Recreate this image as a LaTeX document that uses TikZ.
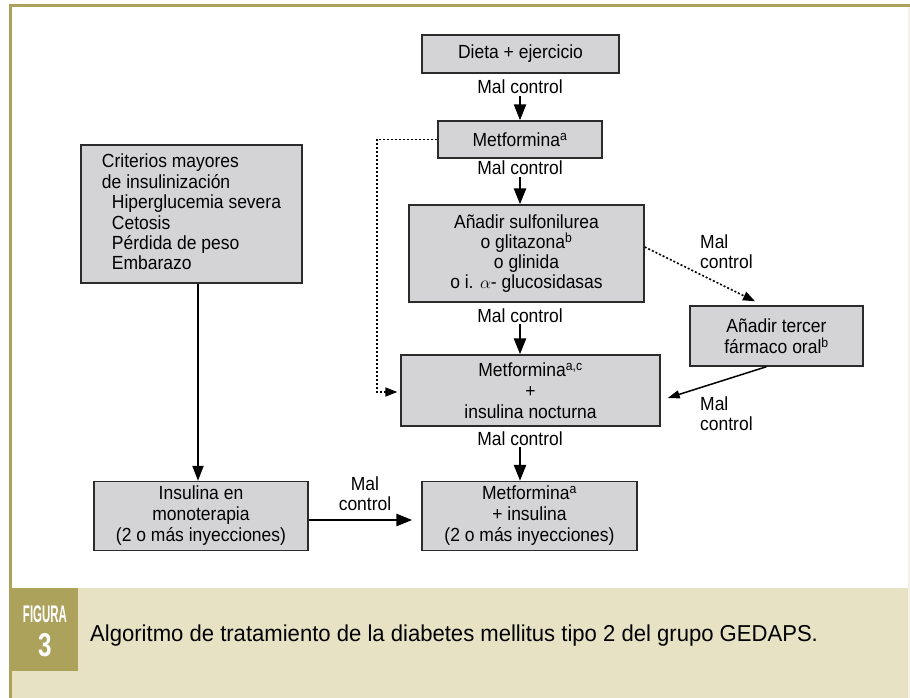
\documentclass[tikz,border=0pt]{standalone}
\usepackage{fontspec}
\setmainfont{Liberation Sans}[FakeStretch=0.92]
\newfontfamily\capfont{Liberation Sans}[FakeStretch=0.96]
\usepackage{graphicx}
\usetikzlibrary{arrows.meta,calc}
\definecolor{figolive}{HTML}{ADA25C}
\definecolor{capbeige}{HTML}{E8E2C5}
\definecolor{boxgray}{HTML}{D4D4D6}
\definecolor{boxline}{HTML}{2B2B2B}
\definecolor{edgecream}{HTML}{F3F1E8}
\tikzset{
  box/.style={draw=boxline, fill=boxgray, line width=1.4pt, inner sep=0pt, align=center,
    font=\fontsize{19}{21}\selectfont},
  lbl/.style={inner sep=0pt, font=\fontsize{19}{20}\selectfont},
  bigarrow/.style={-{Triangle[length=16pt,width=12pt]}, line width=2.6pt, draw=black},
  midarrow/.style={-{Triangle[length=15pt,width=11pt]}, line width=2pt, draw=black},
  thinarrow/.style={-{Triangle[length=12pt,width=8pt]}, line width=1.5pt, draw=black},
  dotarrow/.style={-{Triangle[length=12pt,width=9pt]}, line width=1.6pt, draw=black,
    dash pattern=on 2pt off 2pt},
}
\begin{document}
\begin{tikzpicture}[x=1pt,y=-1pt]
\useasboundingbox (0,0) rectangle (910,698);
\fill[white] (0,0) rectangle (910,698);
\fill[capbeige] (12,588) rectangle (908,698);
\fill[edgecream] (908,7) rectangle (910,698);
\fill[figolive] (12,588) rectangle (78,671);
\draw[figolive, line width=3pt] (9,5.5) -- (910,5.5);
\draw[figolive, line width=3pt] (10.5,4) -- (10.5,698);

% boxes
\node[box, minimum width=197pt, minimum height=38pt] (dieta) at (520.5,54) {Dieta + ejercicio};
\node[box, minimum width=164pt, minimum height=37pt] (met1) at (520,139.5) {Metformina\textsuperscript{a}};
\node[box, minimum width=235pt, minimum height=97pt] (sulf) at (526.5,253.5)
  {A\~nadir sulfonilurea\\[-1pt]o glitazona\textsuperscript{b}\\[-1pt]o glinida\\[-1pt]o i. $\alpha$- glucosidasas};
\node[box, minimum width=259pt, minimum height=71pt] (metins) at (530.5,390.5)
  {Metformina\textsuperscript{a,c}\\+\\insulina nocturna};
\node[box, minimum width=215pt, minimum height=69pt] (final) at (529.5,516)
  {Metformina\textsuperscript{a}\\+ insulina\\(2 o m\'as inyecciones)};
\node[box, minimum width=214pt, minimum height=69pt] (insmono) at (201,516)
  {Insulina en\\monoterapia\\(2 o m\'as inyecciones)};
\node[box, minimum width=173pt, minimum height=60pt] (tercer) at (776.5,336)
  {A\~nadir tercer\\f\'armaco oral\textsuperscript{b}};
\node[box, minimum width=221pt, minimum height=138pt, align=left,
  font=\fontsize{19}{20.4}\selectfont] (crit) at (191.5,214)
  {Criterios mayores\\de insulinizaci\'on\\\hspace*{10pt}Hiperglucemia severa\\\hspace*{10pt}Cetosis\\\hspace*{10pt}P\'erdida de peso\\\hspace*{10pt}Embarazo\vphantom{p}};

% labels
\node[lbl, anchor=base] (l1) at (520,94) {Mal control};
\node[lbl, anchor=base] (l2) at (520,175) {Mal control};
\node[lbl, anchor=base] (l3) at (520,322) {Mal control};
\node[lbl, anchor=base] (l4) at (520,445) {Mal control};
\node[lbl, align=left, anchor=north west] (l5) at (700,234.5) {Mal\\control};
\node[lbl, align=left, anchor=north west] (l6) at (700,396.5) {Mal\\control};
\node[lbl, align=center, anchor=north] (l7) at (365,476.5) {Mal\\control};

% arrows
\draw[bigarrow, shorten <=2pt] (l1.south) -- (l1.south |- met1.north);
\draw[bigarrow, shorten <=2pt] (l2.south) -- (l2.south |- sulf.north);
\draw[bigarrow, shorten <=2pt] (l3.south) -- (l3.south |- metins.north);
\draw[bigarrow, shorten <=2pt] (l4.south) -- (l4.south |- final.north);
\draw[midarrow] ([xshift=6.5pt]crit.south) -- ([xshift=-3pt]insmono.north);
\draw[bigarrow] ([yshift=-4pt]insmono.east) -- ([xshift=-9pt,yshift=-4pt]final.west);
\coordinate (dl) at (377,139.5);
\draw[dotarrow] (met1.west) -- (dl) |- ([xshift=-3pt,yshift=-1.5pt]metins.west);
\draw[dotarrow] ([yshift=6.5pt]sulf.east) -- ([xshift=-21.5pt,yshift=4pt]tercer.north);
\draw[thinarrow] ([xshift=-10pt]tercer.south) -- ([xshift=7pt,yshift=-7.5pt]metins.east);

% caption
\node[text=white, inner sep=0pt, anchor=base, font=\bfseries\fontsize{24}{24}\selectfont] (figw) at (45,622) {\scalebox{0.52}[1]{FIGURA}};
\node[text=white, inner sep=0pt, anchor=base, font=\bfseries\fontsize{33}{33}\selectfont] (fign) at (45,656) {\scalebox{0.8}[1]{3}};
\node[inner sep=0pt, anchor=base west, font=\capfont\fontsize{23}{23}\selectfont] (cap) at (90,641)
  {Algoritmo de tratamiento de la diabetes mellitus tipo 2 del grupo GEDAPS.};
\end{tikzpicture}
\end{document}
